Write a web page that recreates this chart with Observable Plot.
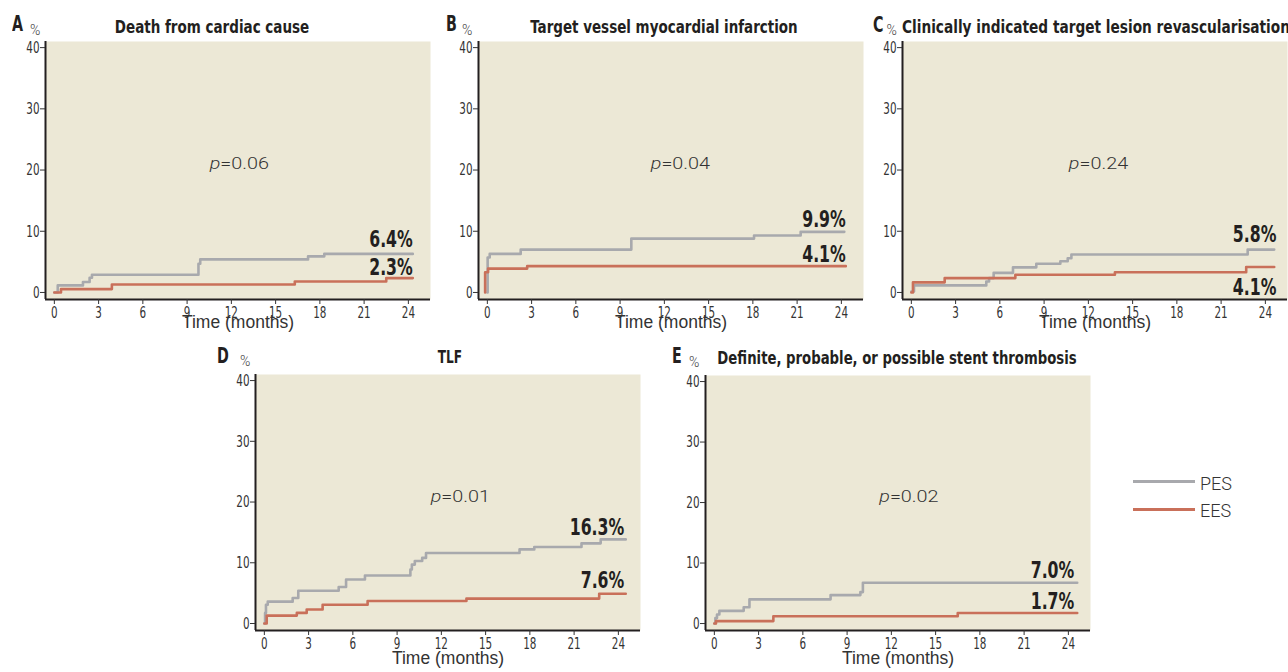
<!DOCTYPE html>
<html>
<head>
<meta charset="utf-8">
<script src="https://cdn.jsdelivr.net/npm/d3@7"></script>
<script src="https://cdn.jsdelivr.net/npm/@observablehq/plot@0.6"></script>
<style>
  html, body { margin: 0; padding: 0; background: #ffffff; overflow: hidden; }
  #root { position: relative; width: 1288px; height: 672px; overflow: hidden; }
  .abs { position: absolute; white-space: nowrap; line-height: 1; }
  .narrow { font-family: 'Liberation Sans Narrow', 'DejaVu Sans Condensed', 'Arial Narrow', sans-serif; }
  .light { font-family: Roboto, 'Open Sans', 'Liberation Sans', sans-serif; font-weight: 300; }
  .title { font-weight: 700; font-size: 18px; color: #231f20; }
  .letter { font-weight: 700; font-size: 22px; color: #231f20; }
  .pct { font-size: 14px; color: #444; }
  .legtext { font-size: 18px; color: #333; }
  .legline { position: absolute; height: 3px; width: 62px; }
</style>
</head>
<body>
<div id="root"></div>
<script>
// ---------- data ----------
const seriesNames = ["PES", "EES"];
const xTicks = [0, 3, 6, 9, 12, 15, 18, 21, 24];
const yTicks = [0, 10, 20, 30, 40];

// A: Death from cardiac cause
const aPesT = [0, 0.23, 1.94, 2.39, 2.55, 9.77, 9.89, 17.2, 18.3, 24.3];
const aPesV = [0, 1.15, 1.7, 2.4, 2.9, 4.7, 5.4, 5.9, 6.3, 6.3];
const aEesT = [0, 0.45, 3.9, 16.3, 22.5, 24.3];
const aEesV = [0, 0.55, 1.3, 1.8, 2.35, 2.35];

// B: Target vessel myocardial infarction
const bPesT = [0, 0.02, 0.16, 2.26, 9.76, 18.08, 21.24, 24.2];
const bPesV = [0, 5.7, 6.3, 7.0, 8.8, 9.3, 9.9, 9.9];
const bEesT = [-0.15, -0.15, 0.05, 2.7, 24.3];
const bEesV = [0, 3.3, 3.9, 4.3, 4.3];

// C: Clinically indicated target lesion revascularisation
const cPesT = [0, 0.18, 5.08, 5.27, 5.58, 6.89, 8.47, 10.1, 10.6, 10.85, 22.8, 24.6];
const cPesV = [0.15, 1.15, 1.8, 2.35, 3.2, 4.1, 4.7, 5.1, 5.6, 6.2, 7.0, 7.0];
const cEesT = [0, 0.11, 2.26, 7.05, 13.8, 22.7, 24.6];
const cEesV = [0, 1.65, 2.35, 2.9, 3.3, 4.15, 4.15];

// D: TLF
const dPesT = [0, 0.05, 0.11, 0.23, 1.92, 2.3, 5.04, 5.54, 6.82, 9.9, 10.0, 10.2, 10.7, 10.96, 17.3, 18.3, 21.5, 22.8, 24.5];
const dPesV = [0, 1.75, 3.1, 3.6, 4.2, 5.4, 6.0, 7.25, 7.9, 8.9, 9.7, 10.3, 10.8, 11.6, 12.2, 12.6, 13.2, 13.85, 13.85];
const dEesT = [0, 0.16, 2.2, 2.87, 3.95, 7.0, 13.7, 22.7, 24.5];
const dEesV = [0, 1.3, 1.75, 2.3, 3.1, 3.7, 4.1, 4.9, 4.9];

// E: Definite, probable, or possible stent thrombosis
const ePesT = [0, 0.07, 0.18, 0.34, 1.99, 2.38, 7.88, 9.9, 10.07, 24.6];
const ePesV = [0, 0.9, 1.5, 2.1, 2.7, 4.0, 4.7, 5.2, 6.75, 6.75];
const eEesT = [0, 0.11, 4.0, 16.5, 24.6];
const eEesV = [0, 0.4, 1.2, 1.75, 1.75];

const panelLetters = ["A", "B", "C", "D", "E"];
const panelTitles = [
  "Death from cardiac cause",
  "Target vessel myocardial infarction",
  "Clinically indicated target lesion revascularisation",
  "TLF",
  "Definite, probable, or possible stent thrombosis"
];
const pValues = ["=0.06", "=0.04", "=0.24", "=0.01", "=0.02"];
const pesLabels = ["6.4%", "9.9%", "5.8%", "16.3%", "7.0%"];
const eesLabels = ["2.3%", "4.1%", "4.1%", "7.6%", "1.7%"];
// label baselines (value units) and right end (months) as seen in the picture
const pesLabelY = [7.4, 10.7, 8.2, 14.5, 7.6];
const eesLabelY = [2.8, 5.0, -0.5, 5.85, 2.46];
const labelX = [24.3, 24.3, 24.75, 24.4, 24.4];
const pPos = [[11.25, 21.1], [11.8, 21.1], [11.4, 21.1], [12.0, 20.9], [11.9, 21.0]];

// ---------- styling / layout ----------
const BG = "#ece8d6";
const PES_COLOR = "#a8a9ad";
const EES_COLOR = "#c9705a";
const AXIS = "#231f20";
const NARROW = "'Liberation Sans Narrow', 'DejaVu Sans Condensed', 'Arial Narrow', sans-serif";
const LIGHT = "Roboto, 'Open Sans', 'Liberation Sans', sans-serif";
const xDomain = [-0.6, 25.5];
const yDomain = [-1.15, 41];

const frames = [
  {left: 45, top: 41, h: 258, labDy: 28},
  {left: 477.5, top: 41, h: 258, labDy: 28},
  {left: 901.5, top: 41, h: 258, labDy: 28},
  {left: 254.5, top: 374, h: 256, labDy: 33},
  {left: 704.5, top: 375, h: 255, labDy: 33}
];
const headers = [
  {letter: [12, 32], pct: [30, 35], title: {center: 212, base: 33, w: 194}},
  {letter: [446, 32], pct: [462, 35], title: {center: 663.5, base: 33, w: 267}},
  {letter: [872.5, 33], pct: [886.5, 35], title: {left: 901.5, base: 33, w: 388}},
  {letter: [216.5, 364], pct: [240, 366], title: {center: 450, base: 363.5, w: 24}},
  {letter: [672, 364], pct: [689, 366.5], title: {center: 896.5, base: 364, w: 359}}
];

const allT = [[aPesT, aEesT], [bPesT, bEesT], [cPesT, cEesT], [dPesT, dEesT], [ePesT, eEesT]];
const allV = [[aPesV, aEesV], [bPesV, bEesV], [cPesV, cEesV], [dPesV, dEesV], [ePesV, eEesV]];

const root = document.getElementById("root");

function addDiv(cls, text, left, base, fs, mode, targetW, sx) {
  const d = document.createElement("div");
  d.className = "abs " + cls;
  d.textContent = text;
  d.style.left = left + "px";
  d.style.top = (base - 0.85 * fs) + "px";
  root.appendChild(d);
  let s = sx || 1;
  if (targetW) s = targetW / d.offsetWidth;
  if (mode === "center") {
    d.style.transformOrigin = "50% 50%";
    d.style.transform = `translateX(-50%) scaleX(${s})`;
  } else {
    d.style.transformOrigin = "0 50%";
    d.style.transform = `scaleX(${s})`;
  }
  return d;
}

function condense(el, s) {
  el.querySelectorAll("text").forEach(t => {
    const tr = t.getAttribute("transform") || "";
    t.setAttribute("transform", tr + ` scale(${s},1)`);
  });
}

for (let i = 0; i < 5; i++) {
  const f = frames[i];
  const [pesT, eesT] = allT[i];
  const [pesV, eesV] = allV[i];
  const rows = [];
  pesT.forEach((t, k) => rows.push({t, v: pesV[k], s: seriesNames[0]}));
  eesT.forEach((t, k) => rows.push({t, v: eesV[k], s: seriesNames[1]}));
  const labels = [
    {x: labelX[i], y: pesLabelY[i], text: pesLabels[i]},
    {x: labelX[i], y: eesLabelY[i], text: eesLabels[i]}
  ];
  const pRow = [{x: pPos[i][0], y: pPos[i][1]}];

  const chart = Plot.plot({
    width: 440,
    height: f.h + 82,
    marginLeft: 45, marginRight: 10, marginTop: 41, marginBottom: 41,
    x: {domain: xDomain},
    y: {domain: yDomain},
    style: {background: "transparent", color: "#333", fontFamily: NARROW, overflow: "visible"},
    marks: [
      Plot.frame({fill: BG, stroke: null}),
      Plot.line(rows.filter(d => d.s === "PES"), {x: "t", y: "v", curve: "step-after", stroke: PES_COLOR, strokeWidth: 2.6}),
      Plot.line(rows.filter(d => d.s === "EES"), {x: "t", y: "v", curve: "step-after", stroke: EES_COLOR, strokeWidth: 2.6}),
      Plot.ruleX([xDomain[0]], {stroke: AXIS, strokeWidth: 2}),
      Plot.ruleY([yDomain[0]], {stroke: AXIS, strokeWidth: 2}),
      Plot.axisX({ticks: xTicks, tickSize: 5, tickPadding: 2, fontSize: 16.5, fontFamily: NARROW, label: null, stroke: "#333"}),
      Plot.axisY({ticks: yTicks, tickSize: 5, tickPadding: 1, fontSize: 16.5, fontFamily: NARROW, label: null, stroke: "#333"}),
      Plot.text(["Time (months)"], {frameAnchor: "bottom", dy: f.labDy, fontSize: 17.5, fontFamily: "'Liberation Sans', Arial, sans-serif", fill: "#333"}),
      Plot.text(pRow, {x: "x", y: "y", text: () => "p", textAnchor: "end", fontSize: 16.5, fontStyle: "italic", fontFamily: LIGHT, fontWeight: 300, fill: "#333"}),
      Plot.text(pRow, {x: "x", y: "y", text: () => pValues[i], textAnchor: "start", fontSize: 16.5, fontFamily: LIGHT, fontWeight: 300, fill: "#333"}),
      Plot.text(labels, {x: "x", y: "y", text: "text", textAnchor: "end", dy: -7.4, fontSize: 23, fontWeight: 700, fontFamily: NARROW, fill: "#231f20"})
    ]
  });
  chart.style.position = "absolute";
  chart.style.left = (f.left - 45) + "px";
  chart.style.top = (f.top - 41) + "px";
  root.appendChild(chart);
  // narrow (condensed) look for tick labels and end-point labels, wide look for p-values
  chart.querySelectorAll('g[aria-label$="tick label"]').forEach(g => condense(g, 0.7));
  chart.querySelectorAll('g[font-size="23"]').forEach(g => condense(g, 0.76));
  chart.querySelectorAll('g[font-size="16.5"][font-weight="300"]').forEach(g => condense(g, 1.2));

  const h = headers[i];
  addDiv("narrow letter", panelLetters[i], h.letter[0], h.letter[1], 22, "left", null, 0.72);
  addDiv("light pct", "%", h.pct[0], h.pct[1], 14, "left", null, 1);
  if (h.title.center !== undefined) addDiv("narrow title", panelTitles[i], h.title.center, h.title.base, 18, "center", h.title.w);
  else addDiv("narrow title", panelTitles[i], h.title.left, h.title.base, 18, "left", h.title.w);
}

// legend
const legendColors = [PES_COLOR, EES_COLOR];
const legendY = [481.7, 509.3];
seriesNames.forEach((name, k) => {
  const ln = document.createElement("div");
  ln.className = "legline";
  ln.style.left = "1133px";
  ln.style.top = (legendY[k] - 1.5) + "px";
  ln.style.background = legendColors[k];
  root.appendChild(ln);
  addDiv("light legtext", name, 1200, legendY[k] + 8.3, 18, "left", null, 1);
});
</script>
</body>
</html>
